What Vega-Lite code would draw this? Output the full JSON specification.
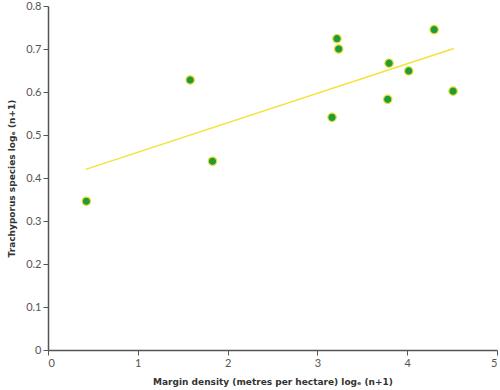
{
  "$schema": "https://vega.github.io/schema/vega-lite/v6.json",
  "width": 449,
  "height": 344,
  "autosize": {"type": "none"},
  "padding": {"left": 48, "top": 6, "right": 3, "bottom": 40},
  "background": "white",
  "config": {
    "view": {"stroke": null},
    "font": "Lato",
    "axis": {
      "grid": false,
      "domainColor": "#555555",
      "domainWidth": 1.5,
      "tickColor": "#555555",
      "tickSize": 5,
      "labelColor": "#555555",
      "labelFont": "Lato",
      "labelFontSize": 11,
      "titleFont": "DejaVu Sans",
      "titleFontSize": 9,
      "titleFontWeight": "bold",
      "titleColor": "#333333"
    }
  },
  "datasets": {
    "points": [
      {"x": 0.427, "y": 0.346},
      {"x": 1.583, "y": 0.628},
      {"x": 1.832, "y": 0.439},
      {"x": 3.163, "y": 0.541},
      {"x": 3.218, "y": 0.724},
      {"x": 3.237, "y": 0.700},
      {"x": 3.798, "y": 0.667},
      {"x": 3.783, "y": 0.583},
      {"x": 4.017, "y": 0.649},
      {"x": 4.300, "y": 0.745},
      {"x": 4.511, "y": 0.602}
    ],
    "fit": [
      {"x": 0.42, "y": 0.420},
      {"x": 4.519, "y": 0.701}
    ]
  },
  "layer": [
    {
      "data": {"name": "fit"},
      "mark": {"type": "line", "color": "#f2e33a", "strokeWidth": 1.5},
      "encoding": {
        "x": {
          "field": "x", "type": "quantitative",
          "scale": {"domain": [0, 5], "nice": false},
          "axis": {"values": [0, 1, 2, 3, 4, 5], "format": "d", "title": "Margin density (metres per hectare) logₑ (n+1)", "titlePadding": 9}
        },
        "y": {
          "field": "y", "type": "quantitative",
          "scale": {"domain": [0, 0.8], "nice": false},
          "axis": {"values": [0, 0.1, 0.2, 0.3, 0.4, 0.5, 0.6, 0.7, 0.8], "format": ".1~f", "title": "Trachyporus species logₑ (n+1)", "titlePadding": 9}
        }
      }
    },
    {
      "data": {"name": "points"},
      "mark": {"type": "point", "filled": true, "fill": "#1f9a3c", "stroke": "#e6dc2e", "strokeWidth": 1.2, "size": 70, "opacity": 1},
      "encoding": {
        "x": {"field": "x", "type": "quantitative"},
        "y": {"field": "y", "type": "quantitative"}
      }
    }
  ]
}
